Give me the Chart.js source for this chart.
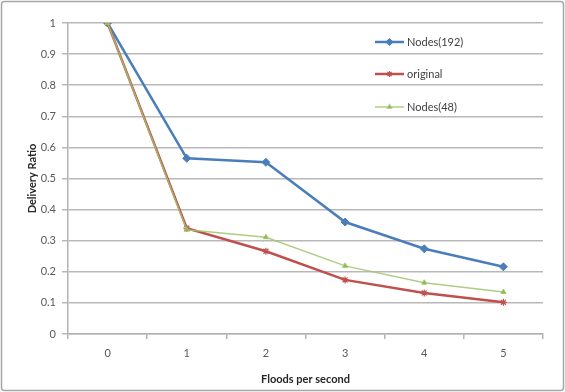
<!DOCTYPE html>
<html>
<head>
<meta charset="utf-8">
<script src="https://cdn.jsdelivr.net/npm/chart.js@4/dist/chart.umd.min.js"></script>
<style>
  html, body { margin: 0; padding: 0; background: #fff; }
  #wrap { position: relative; width: 565px; height: 392px; }
</style>
</head>
<body>
<div id="wrap"><canvas id="c" width="565" height="392"></canvas></div>
<script>
// Floods per second on the x axis
const floods = ['0', '1', '2', '3', '4', '5'];
// Delivery ratio per series
const nodes192 = [1, 0.565, 0.552, 0.36, 0.274, 0.216];
const original = [1, 0.34, 0.266, 0.174, 0.132, 0.102];
const nodes48 = [1, 0.335, 0.311, 0.219, 0.165, 0.135];
const seriesNames = ['Nodes(192)', 'original', 'Nodes(48)'];

const FONT = 'Lato, "Liberation Sans", sans-serif';

// Frame around the whole chart
const framePlugin = {
  id: 'frame',
  beforeDraw(chart) {
    const ctx = chart.ctx;
    ctx.save();
    ctx.fillStyle = '#fff';
    ctx.fillRect(0, 0, chart.width, chart.height);
    ctx.strokeStyle = '#a6a6a6';
    ctx.lineWidth = 1.5;
    ctx.beginPath();
    ctx.roundRect(1.5, 1.5, chart.width - 3, chart.height - 3, 3);
    ctx.stroke();
    ctx.restore();
  }
};

// Vertical legend placed inside the plot area, top right
const insideLegend = {
  id: 'insideLegend',
  afterDraw(chart) {
    const ctx = chart.ctx;
    const x0 = 375, x1 = 404, rows = [42, 74, 107];
    const markerSize = [3.2, 3, 2.5];
    chart.data.datasets.forEach((ds, i) => {
      const y = rows[i];
      ctx.save();
      ctx.strokeStyle = ds.borderColor;
      ctx.lineWidth = ds.borderWidth;
      ctx.beginPath();
      ctx.moveTo(x0, y);
      ctx.lineTo(x1, y);
      ctx.stroke();
      if (Chart.helpers && Chart.helpers.drawPoint) {
        ctx.fillStyle = ds.backgroundColor;
        ctx.strokeStyle = ds.borderColor;
        ctx.lineWidth = 1.2;
        Chart.helpers.drawPoint(ctx, {
          pointStyle: ds.pointStyle,
          radius: markerSize[i],
          borderWidth: 1.2,
          rotation: 0
        }, (x0 + x1) / 2, y);
      }
      ctx.fillStyle = '#404040';
      ctx.font = '11px ' + FONT;
      ctx.textBaseline = 'middle';
      ctx.textAlign = 'left';
      ctx.fillText(ds.label, x1 + 3, y + 0.5);
      ctx.restore();
    });
  }
};

new Chart(document.getElementById('c'), {
  type: 'line',
  data: {
    labels: floods,
    datasets: [
      {
        label: seriesNames[0], data: nodes192, order: 3,
        borderColor: '#4a7ebb', backgroundColor: '#4a7ebb',
        borderWidth: 2.5, pointStyle: 'rectRot', pointRadius: 4,
        pointBorderWidth: 1, tension: 0
      },
      {
        label: seriesNames[1], data: original, order: 2,
        borderColor: '#c0504d', backgroundColor: '#c0504d',
        borderWidth: 2.5, pointStyle: 'star', pointRadius: 3.5,
        pointBorderWidth: 1.2, tension: 0
      },
      {
        label: seriesNames[2], data: nodes48, order: 1,
        borderColor: 'rgba(160,196,110,0.85)', backgroundColor: '#8fb84e',
        borderWidth: 1.5, pointStyle: 'triangle', pointRadius: 3,
        pointBorderWidth: 1, tension: 0
      }
    ]
  },
  options: {
    responsive: false,
    animation: false,
    devicePixelRatio: 1,
    layout: { padding: { top: 23, right: 22, left: 0, bottom: 0 } },
    plugins: {
      legend: { display: false },
      tooltip: { enabled: false }
    },
    scales: {
      x: {
        offset: true,
        grid: {
          offset: true, drawOnChartArea: false, drawTicks: true,
          tickLength: 5, color: '#b3b3b3', lineWidth: 1.5
        },
        border: { color: '#b3b3b3', width: 1.5 },
        ticks: { color: '#595959', font: { family: FONT, size: 11 }, padding: 8 },
        title: {
          display: true, text: 'Floods per second', color: '#262626',
          font: { family: FONT, size: 11, weight: 'bold' },
          padding: { top: 6, bottom: 6 }
        },
        afterFit(scale) { scale.height = 58; }
      },
      y: {
        min: 0, max: 1,
        grid: { color: '#b8b8b8', lineWidth: 1.5, tickLength: 6 },
        border: { color: '#b3b3b3', width: 1.5 },
        ticks: {
          stepSize: 0.1, color: '#595959', padding: 6,
          font: { family: FONT, size: 11 },
          callback: v => String(Math.round(v * 10) / 10)
        },
        title: {
          display: true, text: 'Delivery Ratio', color: '#262626',
          font: { family: FONT, size: 11, weight: 'bold' },
          padding: { top: 26, bottom: 0 }
        },
        afterFit(scale) { scale.width = 68; }
      }
    }
  },
  plugins: [framePlugin, insideLegend]
});
</script>
</body>
</html>
